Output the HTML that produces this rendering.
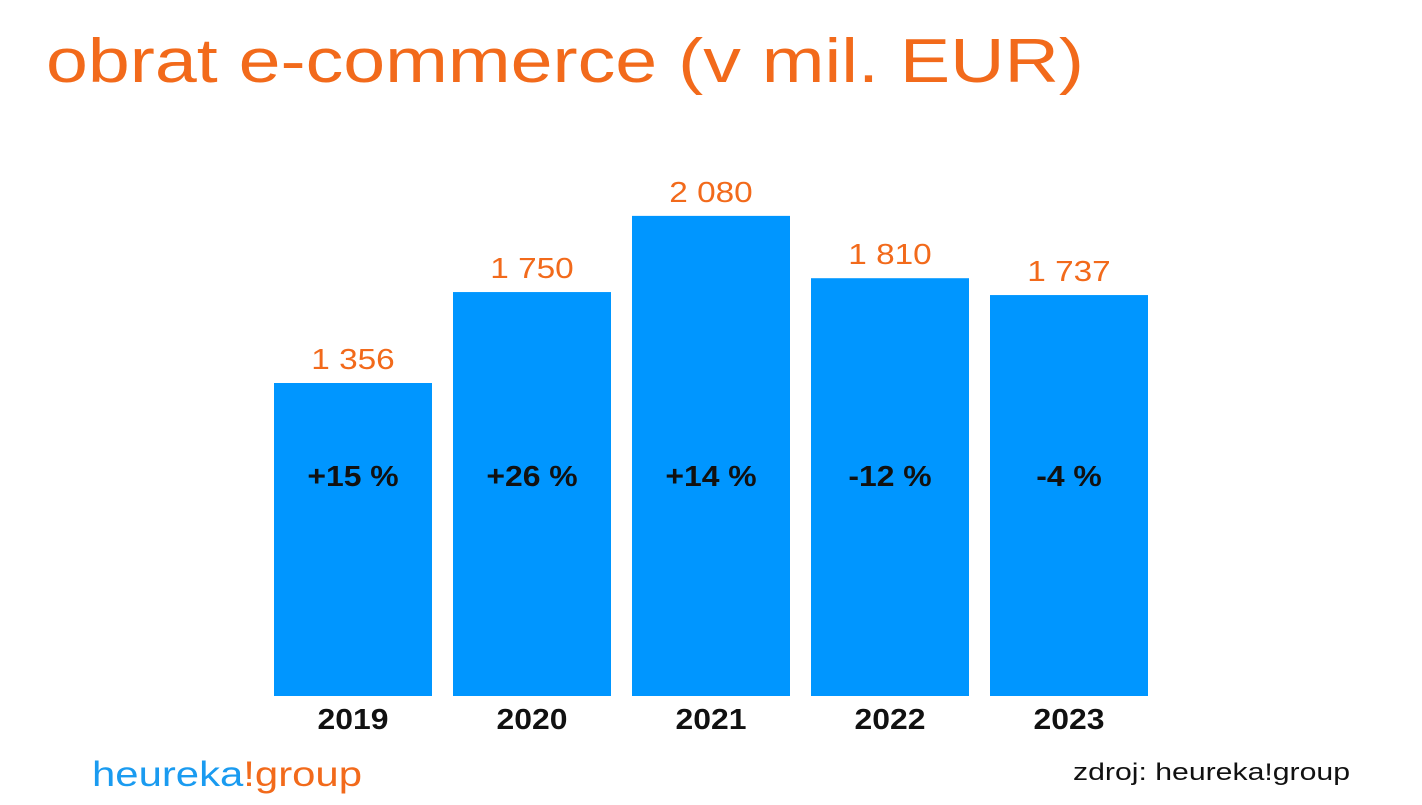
<!DOCTYPE html>
<html><head><meta charset="utf-8"><style>
body{margin:0;width:1422px;height:800px;background:#fff;overflow:hidden;font-family:"Liberation Sans",sans-serif;}
</style></head><body>
<svg width="1422" height="800">
<text x="46" y="82" font-size="62" fill="#f26a1b" textLength="1038" lengthAdjust="spacingAndGlyphs">obrat e-commerce (v mil. EUR)</text>
<g id="bars"></g>
<text x="92" y="786" font-size="35" fill="#1a9bf0" textLength="270" lengthAdjust="spacingAndGlyphs">heureka<tspan fill="#f26a1b">!group</tspan></text>
<text x="1073" y="780" font-size="24" fill="#111" textLength="277" lengthAdjust="spacingAndGlyphs">zdroj: heureka!group</text>
</svg>
<script>
const categories=["2019","2020","2021","2022","2023"];
const values=[1356,1750,2080,1810,1737];
const valueLabels=["1 356","1 750","2 080","1 810","1 737"];
const growth=["+15 %","+26 %","+14 %","-12 %","-4 %"];
const base=696,scale=313/1356,x0=274,step=179,w=158;
const g=document.getElementById('bars');const NS='http://www.w3.org/2000/svg';
function y(v){return base-v*scale;}
function xb(i){return x0+i*step;}
categories.forEach((c,i)=>{
 const r=document.createElementNS(NS,'rect');
 r.setAttribute('x',xb(i));r.setAttribute('y',y(values[i]));r.setAttribute('width',w);r.setAttribute('height',base-y(values[i]));r.setAttribute('fill','#0096ff');
 
 
 g.appendChild(r);
 const t=(txt,yy,fill,name,sx,bold)=>{const e=document.createElementNS(NS,'text');e.setAttribute('font-size','29');e.setAttribute('fill',fill);e.setAttribute('text-anchor','middle');
 if(bold)e.setAttribute('font-weight','bold');
 e.setAttribute('transform','translate('+(xb(i)+w/2)+','+yy+') scale('+sx+',1)');e.textContent=txt;
 
 
 g.appendChild(e);};
 t(valueLabels[i],y(values[i])-14,'#f26a1b','value-label-'+c,1.15,false);
 t(growth[i],486,'#111','growth-label-'+c,1.1,true);
 t(c,729,'#111','year-label-'+c,1.1,true);
});
</script>
</body></html>
